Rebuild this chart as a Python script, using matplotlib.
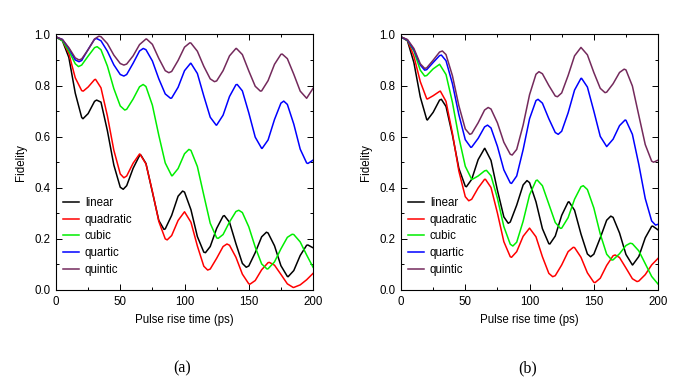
import matplotlib
matplotlib.use("Agg")
import matplotlib.pyplot as plt
from matplotlib.ticker import MultipleLocator
import numpy as np

plt.rcParams['font.family'] = ['Liberation Sans', 'DejaVu Sans']

# pulse rise time (ps), sampled every 5 ps
t_ps = np.arange(0, 201, 5)

labels = ["linear", "quadratic", "cubic", "quartic", "quintic"]
colors = ["black", "#ff0000", "#00ee00", "#0000ff", "#742a5c"]

# panel (a), values on the 5 ps grid
a_linear = [0.99, 0.975, 0.91, 0.77, 0.675, 0.69, 0.738, 0.735, 0.623, 0.489,
            0.402, 0.408, 0.476, 0.526, 0.495, 0.383, 0.272, 0.239, 0.292, 0.367,
            0.383, 0.314, 0.209, 0.148, 0.17, 0.241, 0.289, 0.265, 0.181, 0.104,
            0.094, 0.146, 0.208, 0.223, 0.173, 0.095, 0.053, 0.076, 0.135, 0.175, 0.165]
a_quadratic = [0.99, 0.977, 0.925, 0.83, 0.78, 0.794, 0.823, 0.791, 0.681, 0.547,
               0.454, 0.446, 0.496, 0.532, 0.493, 0.386, 0.268, 0.2, 0.213, 0.272,
               0.306, 0.265, 0.172, 0.093, 0.082, 0.124, 0.17, 0.175, 0.128, 0.062,
               0.024, 0.037, 0.079, 0.107, 0.097, 0.061, 0.024, 0.01, 0.02, 0.04, 0.065]
a_cubic = [0.99, 0.975, 0.935, 0.885, 0.88, 0.915, 0.948, 0.94, 0.876, 0.788,
           0.72, 0.707, 0.747, 0.795, 0.796, 0.723, 0.605, 0.497, 0.447, 0.475,
           0.533, 0.546, 0.483, 0.371, 0.261, 0.204, 0.217, 0.266, 0.307, 0.303,
           0.247, 0.168, 0.102, 0.083, 0.11, 0.161, 0.206, 0.217, 0.188, 0.137, 0.089]
a_quartic = [0.99, 0.98, 0.945, 0.9, 0.898, 0.941, 0.981, 0.975, 0.934, 0.881,
             0.843, 0.843, 0.887, 0.935, 0.94, 0.896, 0.826, 0.767, 0.751, 0.793,
             0.858, 0.887, 0.847, 0.759, 0.676, 0.645, 0.684, 0.757, 0.803, 0.779,
             0.693, 0.598, 0.554, 0.587, 0.667, 0.731, 0.726, 0.649, 0.551, 0.497, 0.508]
a_quintic = [0.99, 0.98, 0.948, 0.908, 0.904, 0.94, 0.982, 0.991, 0.964, 0.919,
             0.886, 0.884, 0.916, 0.96, 0.982, 0.961, 0.906, 0.858, 0.855, 0.898,
             0.95, 0.966, 0.934, 0.875, 0.826, 0.818, 0.858, 0.916, 0.945, 0.921,
             0.857, 0.797, 0.779, 0.819, 0.883, 0.922, 0.905, 0.844, 0.778, 0.75, 0.789]

# panel (a), turning points (t, value)
a_linear_ext = ([21, 31.6, 52.3, 66, 84, 98.5, 116.3, 131, 148, 163.7, 180.6, 196],
                [0.67, 0.743, 0.394, 0.528, 0.237, 0.387, 0.146, 0.291, 0.089, 0.226, 0.052, 0.176])
a_quadratic_ext = ([21.2, 30.8, 52.8, 65.3, 86.5, 118, 133, 151, 166, 184.5],
                   [0.778, 0.824, 0.439, 0.532, 0.196, 0.078, 0.18, 0.023, 0.108, 0.01])
a_cubic_ext = ([17.5, 32, 53.5, 67.8, 90.5, 103.4, 126.2, 142.2, 164.2, 183.7],
               [0.874, 0.952, 0.704, 0.804, 0.447, 0.55, 0.202, 0.312, 0.082, 0.218])
a_quartic_ext = ([17.9, 31.6, 52.8, 67.9, 89.1, 104.7, 124.6, 141, 160.4, 177.2, 196],
                 [0.893, 0.984, 0.837, 0.945, 0.75, 0.887, 0.645, 0.804, 0.554, 0.739, 0.495])
a_quintic_ext = ([17.9, 33.4, 52.8, 70.5, 87.8, 104.1, 123.3, 140.4, 159, 176],
                 [0.9, 0.993, 0.88, 0.982, 0.85, 0.967, 0.815, 0.945, 0.778, 0.923])

# panel (b), values on the 5 ps grid
b_linear = [0.99, 0.975, 0.89, 0.755, 0.667, 0.695, 0.743, 0.718, 0.606, 0.476,
            0.406, 0.433, 0.51, 0.554, 0.507, 0.39, 0.286, 0.266, 0.332, 0.411,
            0.42, 0.345, 0.24, 0.181, 0.211, 0.292, 0.344, 0.312, 0.219, 0.141,
            0.14, 0.204, 0.273, 0.284, 0.223, 0.139, 0.098, 0.131, 0.204, 0.249, 0.235]
b_quadratic = [0.99, 0.977, 0.915, 0.815, 0.748, 0.76, 0.777, 0.738, 0.613, 0.465,
               0.365, 0.355, 0.399, 0.433, 0.401, 0.301, 0.189, 0.13, 0.15, 0.21,
               0.242, 0.208, 0.13, 0.065, 0.056, 0.098, 0.15, 0.166, 0.128, 0.067,
               0.03, 0.046, 0.096, 0.134, 0.127, 0.086, 0.044, 0.035, 0.06, 0.098, 0.124]
b_cubic = [0.99, 0.977, 0.935, 0.86, 0.839, 0.865, 0.883, 0.843, 0.734, 0.597,
           0.484, 0.433, 0.446, 0.466, 0.447, 0.359, 0.248, 0.179, 0.187, 0.269,
           0.372, 0.428, 0.408, 0.336, 0.264, 0.242, 0.283, 0.355, 0.404, 0.393,
           0.321, 0.219, 0.14, 0.118, 0.142, 0.174, 0.181, 0.153, 0.103, 0.053, 0.023]
b_quartic = [0.99, 0.978, 0.94, 0.88, 0.862, 0.89, 0.917, 0.897, 0.807, 0.686,
             0.588, 0.559, 0.593, 0.638, 0.634, 0.562, 0.47, 0.419, 0.446, 0.549,
             0.67, 0.741, 0.731, 0.67, 0.616, 0.621, 0.693, 0.782, 0.828, 0.794,
             0.7, 0.601, 0.561, 0.59, 0.643, 0.664, 0.609, 0.491, 0.358, 0.27, 0.257]
b_quintic = [0.99, 0.98, 0.945, 0.885, 0.869, 0.899, 0.931, 0.921, 0.838, 0.721,
             0.63, 0.612, 0.654, 0.704, 0.708, 0.654, 0.578, 0.531, 0.55, 0.645,
             0.764, 0.844, 0.846, 0.8, 0.759, 0.771, 0.839, 0.916, 0.949, 0.92,
             0.851, 0.789, 0.774, 0.807, 0.851, 0.861, 0.798, 0.683, 0.569, 0.504, 0.508]

# panel (b), turning points
b_linear_ext = ([20.5, 31.4, 50.9, 65.2, 83.4, 98, 115.8, 130.7, 147.5, 163.2, 180.2, 195.8],
                [0.665, 0.746, 0.404, 0.554, 0.261, 0.428, 0.18, 0.345, 0.13, 0.289, 0.098, 0.25])
b_quadratic_ext = ([20.5, 30.6, 52.7, 65.7, 86, 118, 134, 151, 166.6, 183.6],
                   [0.747, 0.778, 0.349, 0.433, 0.128, 0.052, 0.167, 0.029, 0.137, 0.033])
b_cubic_ext = ([18.4, 55.5, 66.5, 87, 106, 124, 141.8, 164, 178.3],
               [0.837, 0.433, 0.468, 0.172, 0.43, 0.241, 0.408, 0.117, 0.183])
b_quartic_ext = ([18.4, 31.4, 54.3, 67.3, 86, 106.6, 122.3, 140.5, 174.3, 198],
                 [0.86, 0.919, 0.558, 0.645, 0.417, 0.746, 0.609, 0.828, 0.665, 0.254])
b_quintic_ext = ([18.4, 32.2, 53.5, 67.8, 86.5, 107.3, 121.7, 158.7, 173.6, 196.5],
                 [0.867, 0.935, 0.609, 0.714, 0.528, 0.854, 0.756, 0.772, 0.864, 0.5])

panels = [
    ("(a)", [(a_linear, a_linear_ext), (a_quadratic, a_quadratic_ext), (a_cubic, a_cubic_ext),
             (a_quartic, a_quartic_ext), (a_quintic, a_quintic_ext)]),
    ("(b)", [(b_linear, b_linear_ext), (b_quadratic, b_quadratic_ext), (b_cubic, b_cubic_ext),
             (b_quartic, b_quartic_ext), (b_quintic, b_quintic_ext)]),
]

fig = plt.figure(figsize=(6.92, 3.77), dpi=100)
lefts = [0.0809, 0.5795]

for left, (tag, series) in zip(lefts, panels):
    ax = fig.add_axes([left, 0.2308, 0.3715, 0.678])
    for (ys, ext), lab, c in zip(series, labels, colors):
        # merge grid samples with turning points, in time order
        tt = np.concatenate([t_ps, ext[0]])
        ff = np.concatenate([ys, ext[1]])
        order = np.argsort(tt, kind="stable")
        ax.plot(tt[order], ff[order], color=c, lw=1.1, label=lab)
    ax.set_xlim(0, 200)
    ax.set_ylim(0, 1)
    ax.xaxis.set_major_locator(MultipleLocator(50))
    ax.xaxis.set_minor_locator(MultipleLocator(25))
    ax.yaxis.set_major_locator(MultipleLocator(0.2))
    ax.yaxis.set_minor_locator(MultipleLocator(0.1))
    ax.yaxis.set_major_formatter(lambda v, p: "%.1f" % v)
    ax.tick_params(which="both", direction="in", top=True, right=True,
                   labelsize=8.3, width=0.7)
    ax.tick_params(which="major", length=4, pad=4)
    ax.tick_params(which="minor", length=2.5)
    for s in ax.spines.values():
        s.set_linewidth(0.8)
    ax.set_xlabel("Pulse rise time (ps)", fontsize=8.3, labelpad=5)
    ax.set_ylabel("Fidelity", fontsize=8.3, labelpad=5)
    ax.legend(loc="lower left", bbox_to_anchor=(0.02, 0.045), frameon=False,
              fontsize=8.3, handlelength=1.35, handletextpad=0.5,
              labelspacing=0.42, borderpad=0.2, borderaxespad=0)
    fig.text(left + 0.3715 / 2 - 0.003, 0.022, tag, ha="center", va="center",
             fontsize=11.5, family=["Liberation Serif", "DejaVu Serif"])

fig.savefig("out.png", dpi=100)
